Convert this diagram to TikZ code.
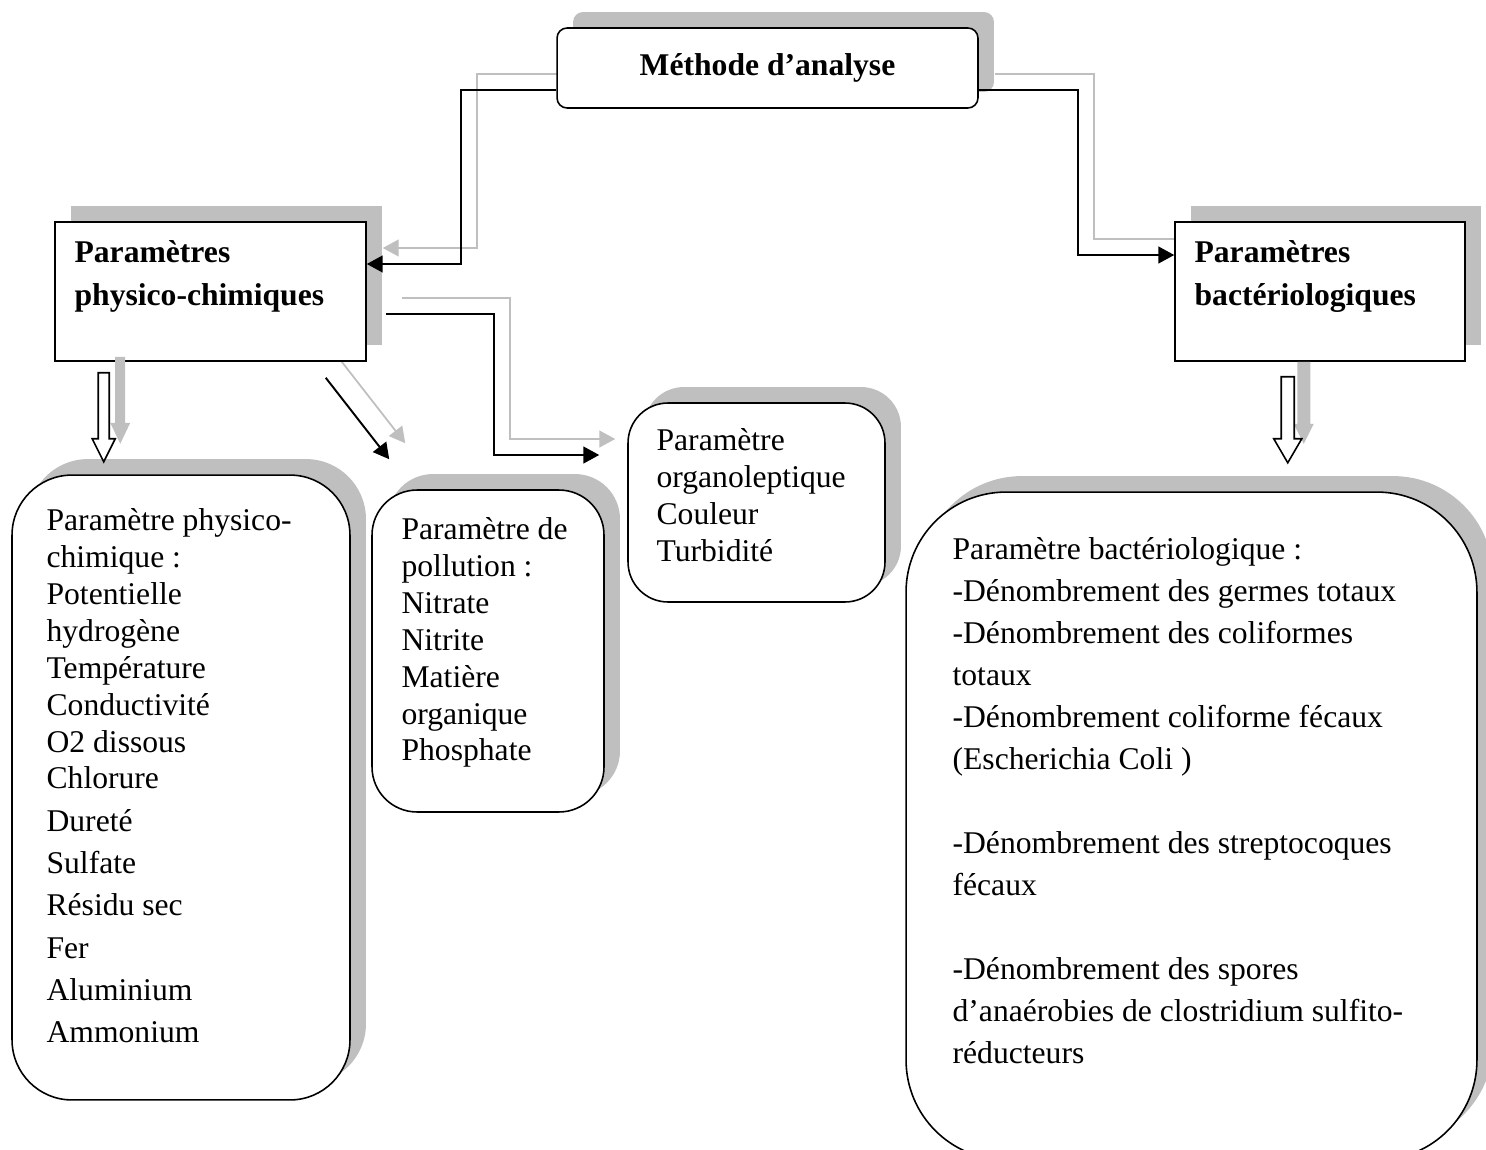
\documentclass[tikz,border=0pt]{standalone}
\usepackage{fontspec}
\setmainfont{Liberation Serif}
\usetikzlibrary{arrows.meta,shadows}
\pgfdeclarelayer{back}
\pgfsetlayers{back,main}

\tikzset{
  box/.style={draw, line width=0.9pt, fill=white, inner sep=0pt,
    drop shadow={shadow xshift=0.32cm, shadow yshift=0.32cm, fill=gray!50, opacity=1}},
  headtext/.style={font=\fontsize{18}{24.4}\selectfont\bfseries, align=left, anchor=north west, inner sep=0pt},
  bodytext/.style={font=\fontsize{18}{21}\selectfont, align=left, anchor=north west, inner sep=0pt},
  blackline/.style={line width=1.1pt, -{Triangle[length=9pt,width=9.5pt]}},
  greyline/.style={line width=1pt, gray!50, -{Triangle[length=9pt,width=9.5pt]},
    transform canvas={shift={(16,-16)}}},
  greyarrow/.style={draw=none, fill=gray!50},
  outlinearrow/.style={draw, fill=white, line width=0.9pt},
}

% block arrow pointing down: style, top point, shaft, head, half shaft, half head
\newcommand{\blockdown}[6]{%
  \draw[#1] #2 ++(-#5,0) -- ++(0,#3) -- ++(#5-#6,0) -- ++(#6,#4)
    -- ++(#6,-#4) -- ++(#5-#6,0) -- ++(0,-#3) -- cycle;}

\begin{document}
\begin{tikzpicture}[x=0.02cm, y=-0.02cm]
\useasboundingbox (0,0) rectangle (1486,1149);
\clip (0,0) rectangle (1486,1149);

% boxes
\node[box, rounded corners=0.2cm, minimum width=8.42cm, minimum height=1.6cm,
  font=\fontsize{18}{21}\selectfont\bfseries] (methode) at (767.5,68) {\raisebox{1.2pt}{Méthode d’analyse}};
\node[box, minimum width=6.22cm, minimum height=2.78cm] (physico) at (210.5,291.5) {};
\node[box, minimum width=5.8cm, minimum height=2.78cm] (bacterio) at (1320,291.5) {};
\node[box, rounded corners=1.2cm, minimum width=6.76cm, minimum height=12.5cm] (physlist) at (181,787.5) {};
\node[box, rounded corners=0.9cm, minimum width=4.64cm, minimum height=6.44cm] (pollution) at (488,651) {};
\node[box, rounded corners=0.8cm, minimum width=5.14cm, minimum height=3.98cm] (organo) at (756.5,502.5) {};
\node[box, rounded corners=2cm, minimum width=11.42cm, minimum height=13.36cm] (bactlist) at (1191.5,826) {};

% texts
\node[headtext] (physicotxt) at ([shift={(20,19)}]physico.north west) {Paramètres\\physico-chimiques};
\node[headtext] (bacteriotxt) at ([shift={(20,19)}]bacterio.north west) {Paramètres\\bactériologiques};
\node[bodytext] (physlisttxt) at ([shift={(35,34)}]physlist.north west)
  {Paramètre physico-\\chimique :\\Potentielle\\hydrogène\\Température\\Conductivité\\O2 dissous\\Chlorure\\[3.1pt]
   Dureté\\[3.1pt]Sulfate\\[3.1pt]Résidu sec\\[3.1pt]Fer\\[3.1pt]Aluminium\\[3.1pt]Ammonium};
\node[bodytext] (pollutiontxt) at ([shift={(30,28)}]pollution.north west)
  {Paramètre de\\pollution :\\Nitrate\\Nitrite\\Matière\\organique\\Phosphate};
\node[bodytext] (organotxt) at ([shift={(29,26)}]organo.north west)
  {Paramètre\\organoleptique\\Couleur\\Turbidité};
\node[bodytext, font=\fontsize{18}{23.9}\selectfont] (bactlisttxt) at ([shift={(47,46)}]bactlist.north west)
  {Paramètre bactériologique :\\-Dénombrement des germes totaux\\-Dénombrement des coliformes\\totaux\\
   -Dénombrement coliforme fécaux\\(Escherichia Coli )\\[23.9pt]-Dénombrement des streptocoques\\fécaux\\[23.9pt]
   -Dénombrement des spores\\d’anaérobies de clostridium sulfito-\\réducteurs};

% connectors
\begin{pgfonlayer}{back}
\draw[greyline] ([shift={(0,22)}]methode.west) -- ++(-95,0) |- ([shift={(0,-27.5)}]physico.east);
\draw[greyline] ([shift={(0,22)}]methode.east) -- ++(99,0) |- ([shift={(0,-36.5)}]bacterio.west);
\draw[greyline] ([shift={(19,22.5)}]physico.east) -- ++(108,0) |- ([shift={(-28,-47.5)}]organo.west);
\draw[greyline] ([shift={(-41,16)}]physico.south east) -- ([shift={(18,-30)}]pollution.north west);
\end{pgfonlayer}
\draw[blackline] ([shift={(0,22)}]methode.west) -- ++(-95,0) |- ([shift={(0,-27.5)}]physico.east);
\draw[blackline] ([shift={(0,22)}]methode.east) -- ++(99,0) |- ([shift={(0,-36.5)}]bacterio.west);
\draw[blackline] ([shift={(19,22.5)}]physico.east) -- ++(108,0) |- ([shift={(-28,-47.5)}]organo.west);
\draw[blackline] ([shift={(-41,16)}]physico.south east) -- ([shift={(18,-30)}]pollution.north west);

% block arrows
\blockdown{greyarrow}{([shift={(66,-5)}]physico.south west)}{66}{21}{5}{10}
\blockdown{outlinearrow}{([shift={(49.5,11)}]physico.south west)}{66}{23}{5.5}{11.5}
\blockdown{greyarrow}{([shift={(129.5,0)}]bacterio.south west)}{62}{20}{6.5}{10}
\blockdown{outlinearrow}{([shift={(113.5,15)}]bacterio.south west)}{62}{24}{6.5}{14}
\end{tikzpicture}
\end{document}
